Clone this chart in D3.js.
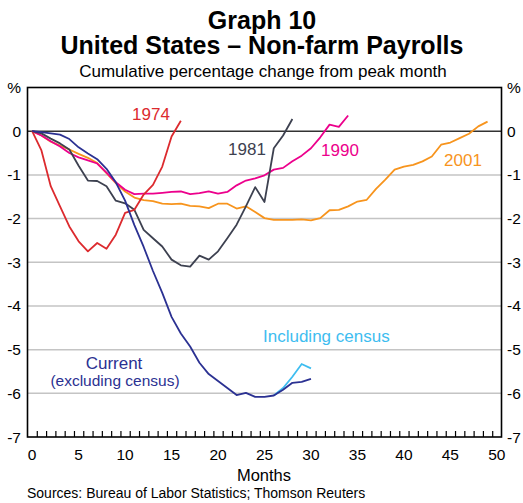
<!DOCTYPE html>
<html>
<head>
<meta charset="utf-8">
<script src="https://cdn.jsdelivr.net/npm/d3@7"></script>
<style>
  body { margin: 0; background: #fff; }
  svg text { font-family: Arial, "Liberation Sans", sans-serif; }
</style>
</head>
<body>
<div id="chart"></div>
<script>
// Values, one per month from the peak month (month 0).
var rec1974 = [0, -0.44, -1.26, -1.72, -2.18, -2.52, -2.75, -2.56, -2.69, -2.37, -1.87, -1.8, -1.45, -1.23, -0.81, -0.12, 0.24];
var rec1981 = [0, -0.05, -0.17, -0.28, -0.42, -0.79, -1.13, -1.14, -1.26, -1.59, -1.65, -1.8, -2.26, -2.45, -2.64, -2.94, -3.07, -3.1, -2.85, -2.94, -2.75, -2.45, -2.14, -1.72, -1.28, -1.62, -0.39, -0.1, 0.28];
var rec1990 = [0, -0.1, -0.23, -0.35, -0.5, -0.6, -0.67, -0.74, -0.95, -1.17, -1.34, -1.44, -1.43, -1.43, -1.41, -1.39, -1.38, -1.44, -1.42, -1.38, -1.43, -1.39, -1.24, -1.13, -1.08, -1.01, -0.88, -0.84, -0.69, -0.56, -0.39, -0.14, 0.15, 0.1, 0.36];
var rec2001 = [0, -0.1, -0.24, -0.33, -0.42, -0.52, -0.61, -0.73, -0.96, -1.19, -1.38, -1.52, -1.58, -1.6, -1.66, -1.67, -1.66, -1.71, -1.72, -1.76, -1.66, -1.66, -1.77, -1.72, -1.85, -1.99, -2.03, -2.03, -2.03, -2.02, -2.04, -1.99, -1.81, -1.8, -1.72, -1.61, -1.57, -1.32, -1.11, -0.88, -0.81, -0.77, -0.69, -0.58, -0.31, -0.26, -0.16, -0.06, 0.11, 0.22];
var current = [0, -0.02, -0.05, -0.08, -0.18, -0.37, -0.51, -0.64, -0.86, -1.17, -1.59, -2.15, -2.65, -3.2, -3.7, -4.25, -4.63, -4.93, -5.3, -5.56, -5.72, -5.88, -6.04, -5.99, -6.08, -6.08, -6.05, -5.92, -5.76, -5.74, -5.67];
// Including census starts where it splits from the current line (month 26).
var censusStart = 26;
var census = [-6.05, -5.88, -5.62, -5.33, -5.43];

var yTicks = [1, 0, -1, -2, -3, -4, -5, -6, -7];
var yTickLabels = ["%", "0", "-1", "-2", "-3", "-4", "-5", "-6", "-7"];
var xTicks = [0, 5, 10, 15, 20, 25, 30, 35, 40, 45, 50];

var svgWidth = 523;
var svgHeight = 503;
var plot = { left: 27.5, right: 501.5, top: 87.5, bottom: 437 };

var svg = d3.select("#chart").append("svg").attr("width", svgWidth).attr("height", svgHeight);

var xScale = d3.scaleLinear().domain([-0.5, 50.5]).range([plot.left, plot.right]);
var yScale = d3.scaleLinear().domain([-7, 1]).range([plot.bottom, plot.top]);

// Titles
svg.append("text").attr("x", 262).attr("y", 28.5).attr("text-anchor", "middle")
    .attr("font-size", "25px").attr("font-weight", "bold").text("Graph 10");
svg.append("text").attr("x", 262).attr("y", 54).attr("text-anchor", "middle")
    .attr("font-size", "25px").attr("font-weight", "bold").text("United States \u2013 Non-farm Payrolls");
svg.append("text").attr("x", 263).attr("y", 77).attr("text-anchor", "middle")
    .attr("font-size", "17px").text("Cumulative percentage change from peak month");

// Gridlines
svg.append("g").selectAll("line").data([-1, -2, -3, -4, -5, -6]).enter().append("line")
    .attr("x1", plot.left).attr("x2", plot.right)
    .attr("y1", d => yScale(d)).attr("y2", d => yScale(d))
    .attr("stroke", "#c4c4c4").attr("stroke-width", 1.5);

// Zero line
svg.append("line").attr("x1", plot.left).attr("x2", plot.right)
    .attr("y1", yScale(0)).attr("y2", yScale(0))
    .attr("stroke", "#333").attr("stroke-width", 1.6);

// Y labels on both sides
svg.append("g").selectAll("text").data(yTicks).enter().append("text")
    .attr("x", 21).attr("y", d => yScale(d) + 5.5).attr("text-anchor", "end")
    .attr("font-size", "15.5px").text((d, i) => yTickLabels[i]);
svg.append("g").selectAll("text").data(yTicks).enter().append("text")
    .attr("x", 507).attr("y", d => yScale(d) + 5.5).attr("text-anchor", "start")
    .attr("font-size", "15.5px").text((d, i) => yTickLabels[i]);

// Bottom axis: month ticks sit between the months, labels every 5 months
var bottomAxis = d3.axisBottom(xScale).tickValues(d3.range(0.5, 50, 1)).tickSizeInner(-6).tickSizeOuter(0).tickFormat("");
var xAxis = svg.append("g").attr("transform", `translate(0,${plot.bottom})`).call(bottomAxis);
xAxis.select(".domain").remove();
xAxis.selectAll("line").attr("stroke", "#000").attr("stroke-width", 1.2);

svg.append("g").selectAll("text").data(xTicks).enter().append("text")
    .attr("x", d => xScale(d)).attr("y", 460).attr("text-anchor", "middle")
    .attr("font-size", "15.5px").text(d => d);

svg.append("text").attr("x", 264).attr("y", 481).attr("text-anchor", "middle")
    .attr("font-size", "16.5px").text("Months");
svg.append("text").attr("x", 27).attr("y", 498)
    .attr("font-size", "14px").text("Sources: Bureau of Labor Statistics; Thomson Reuters");

// Lines
var line = d3.line().x((d, i) => xScale(i)).y(d => yScale(d));
var censusLine = d3.line().x((d, i) => xScale(censusStart + i)).y(d => yScale(d));

var series = [
    { values: rec2001, color: "#f7941d" },
    { values: rec1990, color: "#ec008c" },
    { values: rec1981, color: "#3d4150" },
    { values: rec1974, color: "#dc2a2e" }
];
svg.append("g").selectAll("path").data(series).enter().append("path")
    .attr("d", d => line(d.values)).attr("fill", "none")
    .attr("stroke", d => d.color).attr("stroke-width", 1.8).attr("stroke-linejoin", "round");

svg.append("path").attr("d", censusLine(census)).attr("fill", "none")
    .attr("stroke", "#3ebdf0").attr("stroke-width", 1.8);
svg.append("path").attr("d", line(current)).attr("fill", "none")
    .attr("stroke", "#2b3192").attr("stroke-width", 1.8).attr("stroke-linejoin", "round");

// Series labels
svg.append("text").attr("x", 151).attr("y", 120).attr("text-anchor", "middle")
    .attr("font-size", "17px").attr("fill", "#dc2a2e").text("1974");
svg.append("text").attr("x", 247).attr("y", 155).attr("text-anchor", "middle")
    .attr("font-size", "17px").attr("fill", "#3d4150").text("1981");
svg.append("text").attr("x", 340).attr("y", 155.5).attr("text-anchor", "middle")
    .attr("font-size", "17px").attr("fill", "#ec008c").text("1990");
svg.append("text").attr("x", 463).attr("y", 166).attr("text-anchor", "middle")
    .attr("font-size", "17px").attr("fill", "#f7941d").text("2001");
svg.append("text").attr("x", 263).attr("y", 342).attr("text-anchor", "start")
    .attr("font-size", "17px").attr("fill", "#3ebdf0").text("Including census");
svg.append("text").attr("x", 114).attr("y", 369).attr("text-anchor", "middle")
    .attr("font-size", "17px").attr("fill", "#2b3192").text("Current");
svg.append("text").attr("x", 115).attr("y", 386).attr("text-anchor", "middle")
    .attr("font-size", "15.5px").attr("fill", "#2b3192").text("(excluding census)");

// Frame
svg.append("rect").attr("x", plot.left).attr("y", plot.top)
    .attr("width", plot.right - plot.left).attr("height", plot.bottom - plot.top)
    .attr("fill", "none").attr("stroke", "#000").attr("stroke-width", 1.6);
</script>
</body>
</html>
